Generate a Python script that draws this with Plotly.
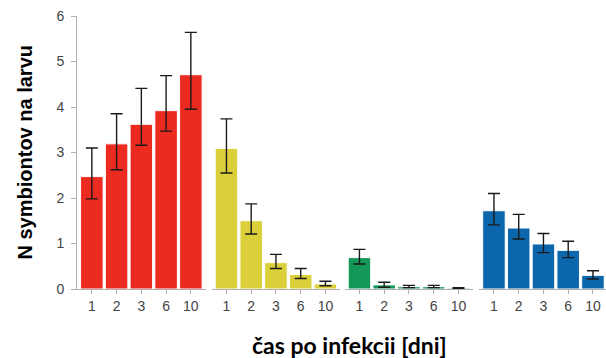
import plotly.graph_objects as go

days = ["1", "2", "3", "6", "10"]

red_vals = [2.47, 3.19, 3.62, 3.92, 4.71]
red_hi = [3.10, 3.85, 4.41, 4.69, 5.64]
red_lo = [1.98, 2.62, 3.16, 3.47, 3.95]

yellow_vals = [3.09, 1.50, 0.58, 0.32, 0.11]
yellow_hi = [3.74, 1.87, 0.76, 0.45, 0.17]
yellow_lo = [2.55, 1.21, 0.45, 0.23, 0.07]

green_vals = [0.69, 0.09, 0.05, 0.05, 0.02]
green_hi = [0.87, 0.15, 0.08, 0.08, 0.03]
green_lo = [0.55, 0.04, 0.03, 0.03, 0.01]

blue_vals = [1.72, 1.34, 0.99, 0.85, 0.30]
blue_hi = [2.10, 1.64, 1.22, 1.05, 0.40]
blue_lo = [1.41, 1.10, 0.80, 0.69, 0.22]

y_ticks = [0, 1, 2, 3, 4, 5, 6]

groups = [
    (red_vals, red_hi, red_lo, "#EC2B20"),
    (yellow_vals, yellow_hi, yellow_lo, "#DCD03A"),
    (green_vals, green_hi, green_lo, "#14985A"),
    (blue_vals, blue_hi, blue_lo, "#0B66AC"),
]

W = 606
pitch = 24.75
domains_px = [77.0, 211.6, 344.6, 479.1]

fig = go.Figure()
tick_font = dict(family="Liberation Sans, Arial", size=14, color="#444444")

for i, (vals, hi, lo, col) in enumerate(groups):
    ax = "" if i == 0 else str(i + 1)
    fig.add_trace(go.Bar(
        x=days, y=vals,
        marker=dict(color=col, line=dict(color="white", width=1)),
        error_y=dict(type="data", symmetric=False,
                     array=[h - v for h, v in zip(hi, vals)],
                     arrayminus=[v - l for v, l in zip(vals, lo)],
                     color="#1a1a1a", thickness=1.4, width=6),
        xaxis="x" + ax, yaxis="y", showlegend=False, hoverinfo="skip",
    ))
    left = domains_px[i]
    right = min(left + 5.2 * pitch, W)
    rng_hi = -0.6 + (right - left) / pitch
    fig.layout["xaxis" + ax] = dict(
        domain=[left / W, right / W], anchor="y", type="category",
        range=[-0.6, rng_hi], showline=True, linecolor="#b0b0b0", linewidth=1,
        ticks="outside", ticklen=4, tickcolor="#b0b0b0", tickfont=tick_font,
        showgrid=False, zeroline=False, fixedrange=True,
    )

fig.update_layout(
    yaxis=dict(range=[0, 6], tickvals=y_ticks, anchor="x", showline=True,
               linecolor="#b0b0b0", linewidth=1, ticks="outside", ticklen=5,
               tickcolor="#b0b0b0", tickfont=tick_font, showgrid=False,
               zeroline=False, ticklabelstandoff=4, fixedrange=True),
    width=W, height=358,
    margin=dict(l=0, r=0, t=16, b=69),
    plot_bgcolor="white", paper_bgcolor="white",
    bargap=0.09,
    annotations=[
        dict(text="N symbiontov na larvu", xref="paper", yref="paper",
             x=24 / W, y=0.5, textangle=-90, showarrow=False,
             font=dict(family="Liberation Sans, Arial", size=20, color="black", weight="bold"),
             xanchor="center", yanchor="middle"),
        dict(text="čas po infekcii [dni]", xref="paper", yref="paper",
             x=349 / W, y=-(345 - 289.3) / (358 - 16 - 69), showarrow=False,
             font=dict(family="Lato, Open Sans", size=23, color="black", weight="bold"),
             xanchor="center", yanchor="middle"),
    ],
)

fig.write_html("out.html", config={"displayModeBar": False},
               post_script="document.body.style.margin='0';document.body.style.overflow='hidden';")
